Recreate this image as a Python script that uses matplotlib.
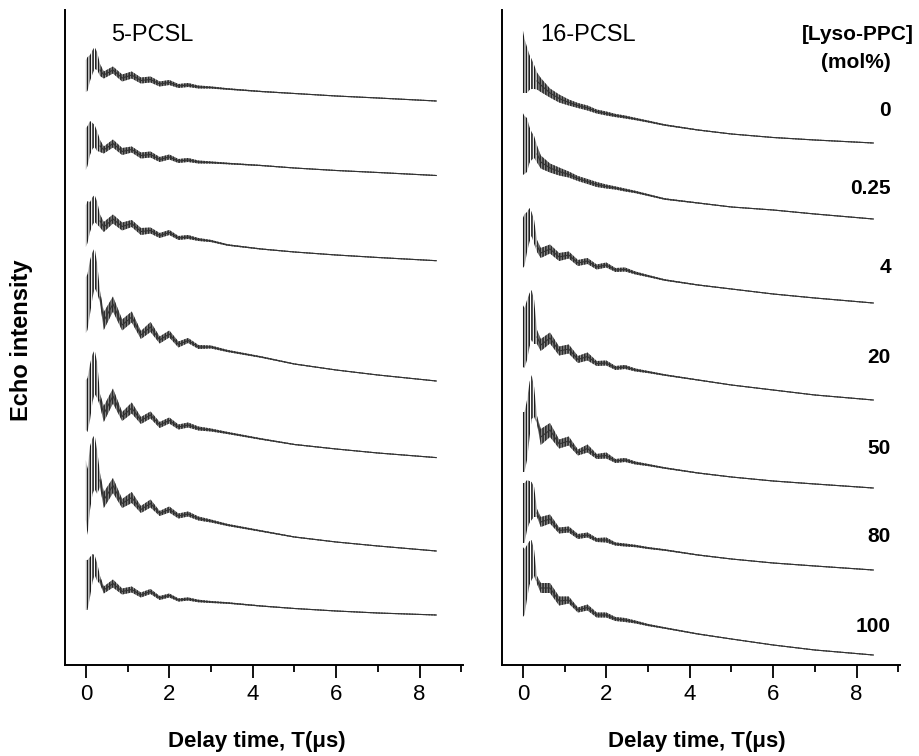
import numpy as np
import matplotlib
matplotlib.use("Agg")
import matplotlib.pyplot as plt

plt.rcParams['font.family'] = ['Liberation Sans', 'DejaVu Sans']
plt.rcParams['hatch.linewidth'] = 1.15
plt.rcParams['hatch.color'] = '#1c1c1c'

# ---- data -------------------------------------------------------------
# delay time grid (us)
T = [0, 0.04, 0.1, 0.16, 0.21, 0.27, 0.34, 0.43, 0.65, 0.87, 1.1, 1.32, 1.55,
     1.77, 2.0, 2.22, 2.45, 2.7, 3.0, 3.4, 4.2, 5.0, 6.0, 7.0, 8.4]

concentrations = ['0', '0.25', '4', '20', '50', '80', '100']
panel_titles = ['5-PCSL', '16-PCSL']
x_ticks = [0, 2, 4, 6, 8]

# 5-PCSL echo (centre of the modulated trace, stacked, arbitrary units)
pcsl5_0 = [589, 591, 597, 603, 607, 604, 595, 590, 595, 587, 590, 584.5, 585.5, 581, 582.5, 579, 580, 578, 577.5, 576, 573.5, 571.5, 569, 567, 564]
pcsl5_025 = [516, 519, 527, 529, 529, 524, 519, 515, 521.5, 513.5, 515.5, 509.5, 510.5, 505.5, 508, 504, 505, 503, 502.5, 501.5, 499.5, 497, 494.5, 492.5, 489.5]
pcsl5_4 = [439, 443, 448, 454, 456.5, 452, 444, 438, 446, 438.5, 441.5, 433.5, 434.5, 429.5, 432.5, 427, 428, 425.5, 424, 420, 416, 413, 410, 407.5, 404.3]
pcsl5_20 = [360, 363, 378, 390, 397, 387, 368, 344, 361, 340, 348, 330, 338, 325, 331, 320.5, 324.5, 318, 318, 314, 308, 301, 295, 290, 284]
pcsl5_50 = [260, 260, 273, 287, 293, 285, 265, 251, 269, 248.5, 257, 244.5, 250, 240, 244.5, 238, 240, 236.5, 235, 232, 226, 220.5, 216, 212, 207.4]
pcsl5_80 = [175, 163, 187, 199, 203, 193, 185, 165, 179.5, 161.5, 167.5, 155.5, 161.5, 151.5, 155.5, 149, 151, 146.5, 144, 140, 134, 128, 123, 119, 114]
pcsl5_100 = [80, 80, 88, 97, 100, 93, 85, 75, 81.5, 73.5, 75.5, 70, 73.5, 67, 69.5, 65, 66, 64, 63, 62, 59, 56.5, 54, 52, 50]

# 5-PCSL modulation half-amplitude
amp5_0 = [16, 17, 13, 12, 11, 9, 6, 3.5, 3.5, 3.5, 3.5, 3, 3, 2.5, 2.5, 2, 2, 1.5, 1.1, 0.8, 0.6, 0.5, 0.5, 0.5, 0.5]
amp5_025 = [21, 20, 17, 13, 11, 10, 6, 3.5, 4, 3.5, 3, 3, 3, 2.5, 2.5, 2, 2, 1.5, 1.1, 0.8, 0.6, 0.5, 0.5, 0.5, 0.5]
amp5_4 = [21, 21, 15, 14, 13.5, 11.5, 6.5, 5, 4.5, 4, 3.5, 3.5, 3, 2.5, 2.5, 2, 2, 1.5, 1.1, 0.8, 0.6, 0.5, 0.5, 0.5, 0.5]
amp5_20 = [28, 28, 27, 23, 20, 15, 6, 9, 7.5, 5.5, 5.5, 4, 5, 3.5, 3.5, 3, 2.5, 2, 1.5, 1.1, 0.8, 0.6, 0.5, 0.5, 0.5]
amp5_50 = [25, 27, 28, 24, 22, 18, 6, 8, 7.5, 4.5, 5.5, 3.5, 3.5, 3, 3, 2.5, 2.5, 2, 1.5, 1.1, 0.8, 0.6, 0.5, 0.5, 0.5]
amp5_80 = [30, 33, 32, 28, 27, 22, 7, 8, 7.5, 4.5, 5.5, 3.5, 4, 2.5, 3, 2.5, 2.5, 2, 1.5, 1.1, 0.8, 0.6, 0.5, 0.5, 0.5]
amp5_100 = [25, 25, 20, 14, 10, 9, 4, 3.5, 4, 3, 3, 2.5, 2.5, 2, 2, 1.6, 1.6, 1.3, 1.0, 0.8, 0.6, 0.5, 0.5, 0.5, 0.5]

# 16-PCSL echo (stacked, arbitrary units)
pcsl16_0 = [603.5, 599, 595, 592.5, 591, 588, 584, 580, 572, 566.5, 562.5, 559.5, 557, 553.5, 551.5, 549.5, 548, 546, 543.5, 540, 535, 531, 527.5, 525, 522]
pcsl16_025 = [521, 520, 520, 520, 519, 518, 511, 503, 497, 493.5, 490.5, 486.5, 483.5, 480.5, 478.5, 477, 475, 473, 470, 466, 462, 458, 455, 451, 446]
pcsl16_4 = [422, 425, 433, 440, 441, 433, 419, 412, 416, 408, 410, 402, 404, 398, 400, 395, 395.5, 392, 389, 385, 380, 376, 371, 367, 362]
pcsl16_20 = [329, 327, 335, 345, 350, 343, 328, 320, 327, 314, 316, 305.5, 308.5, 301.5, 302, 297, 298, 295, 293, 290, 285, 280, 275, 270, 265]
pcsl16_50 = [223, 223, 235, 255, 268, 263, 245, 228, 235, 221, 224, 212.5, 216.5, 208.5, 209.5, 204, 205, 202, 200, 197, 192, 188, 184, 181, 177]
pcsl16_80 = [152, 152, 160, 163, 164, 163, 152, 143, 146, 134.5, 135.5, 128.5, 130, 125, 125, 121, 120, 119, 117, 115, 110, 106, 102, 99, 95]
pcsl16_100 = [83, 83, 93, 102, 105, 102, 85, 77, 77, 64, 65, 55, 57.5, 50, 50, 46, 45, 43, 40, 37, 31, 26, 20, 15, 10]

amp16_0 = [31.5, 27, 23, 17.5, 15, 12, 8.5, 7, 4.5, 4, 3, 2.5, 2.5, 2, 2, 1.6, 1.5, 1.2, 1.0, 0.8, 0.6, 0.5, 0.5, 0.5, 0.5]
amp16_025 = [31, 29, 27, 18, 14, 11, 8.5, 6.5, 4.5, 4, 3, 2.5, 2.5, 2.5, 2, 1.6, 1.5, 1.2, 1.0, 0.8, 0.6, 0.5, 0.5, 0.5, 0.5]
amp16_4 = [25, 26, 20, 17, 12, 12, 6, 5, 4.5, 4, 3.5, 3, 3, 2.5, 2.5, 2, 2, 1.5, 1.1, 0.8, 0.6, 0.5, 0.5, 0.5, 0.5]
amp16_20 = [31, 30, 30, 27, 25, 22, 7, 6, 5.5, 4.5, 4.5, 3.5, 4, 2.5, 2.5, 2, 2, 1.5, 1.1, 0.8, 0.6, 0.5, 0.5, 0.5, 0.5]
amp16_50 = [30, 30, 30, 28, 22, 15, 4, 8, 7, 4.5, 4.5, 3, 4, 2.5, 3, 2, 2, 1.5, 1.1, 0.8, 0.6, 0.5, 0.5, 0.5, 0.5]
amp16_80 = [30, 30, 25, 21, 19, 15, 4, 5, 4.5, 3, 3, 2.5, 2.5, 2, 2.5, 1.6, 1.5, 1.2, 1.0, 0.8, 0.6, 0.5, 0.5, 0.5, 0.5]
amp16_100 = [35, 33, 27, 22, 20, 13, 4, 5, 5, 4.5, 3.5, 2.5, 3, 2.5, 2.5, 2, 2, 1.5, 1.1, 0.8, 0.6, 0.5, 0.5, 0.5, 0.5]

pcsl5 = [pcsl5_0, pcsl5_025, pcsl5_4, pcsl5_20, pcsl5_50, pcsl5_80, pcsl5_100]
amp5 = [amp5_0, amp5_025, amp5_4, amp5_20, amp5_50, amp5_80, amp5_100]
pcsl16 = [pcsl16_0, pcsl16_025, pcsl16_4, pcsl16_20, pcsl16_50, pcsl16_80, pcsl16_100]
amp16 = [amp16_0, amp16_025, amp16_4, amp16_20, amp16_50, amp16_80, amp16_100]

# ---- figure -----------------------------------------------------------
W, H = 919, 756
fig = plt.figure(figsize=(W / 100, H / 100), dpi=100)
axL = fig.add_axes([65 / W, 1 - 665 / H, 398 / W, 655 / H])
axR = fig.add_axes([502 / W, 1 - 665 / H, 398 / W, 655 / H])

t = np.array(T)
early = t <= 0.34
late = t >= 0.34
for ax, sets, amps, title in [(axL, pcsl5, amp5, panel_titles[0]),
                              (axR, pcsl16, amp16, panel_titles[1])]:
    for mid, amp in zip(sets, amps):
        m = np.array(mid, dtype=float)
        a = np.array(amp, dtype=float)
        # first, strongly modulated part: separate strokes
        ax.fill_between(t, m - a, m + a, where=early, facecolor='none',
                        edgecolor='#1c1c1c', hatch='||||||', linewidth=0)
        # later part: dense, narrow modulated band
        ax.fill_between(t, m - a, m + a, where=late, facecolor='#8e8e8e',
                        edgecolor='#2a2a2a', hatch='||||||', linewidth=0)
        ax.plot(t[late], m[late], color='#333333', lw=0.8,
                solid_joinstyle='round')
    ax.set_xlim(-0.5, 9.04)
    ax.set_ylim(0, 655)
    ax.spines['top'].set_visible(False)
    ax.spines['right'].set_visible(False)
    ax.spines['left'].set_linewidth(1.4)
    ax.spines['bottom'].set_linewidth(1.4)
    ax.set_yticks([])
    ax.set_xticks(x_ticks)
    ax.set_xticks([1, 3, 5, 7, 9], minor=True)
    ax.tick_params(axis='x', which='major', direction='out', length=9, width=1.3,
                   labelsize=16, pad=5)
    ax.tick_params(axis='x', which='minor', direction='out', length=5, width=1.3)
    ax.text(0.115 if ax is axL else 0.095, 0.962, title, transform=ax.transAxes,
            fontsize=17, ha='left', va='center')

fig.text(257 / W, 1 - 742 / H, 'Delay time, T(\u03bcs)', fontsize=16,
         fontweight='bold', ha='center', va='center')
fig.text(697 / W, 1 - 742 / H, 'Delay time, T(\u03bcs)', fontsize=16,
         fontweight='bold', ha='center', va='center')
fig.text(22 / W, 1 - 340 / H, 'Echo intensity', fontsize=17, fontweight='bold',
         rotation=90, ha='center', va='center')

fig.text(914 / W, 1 - 35 / H, '[Lyso-PPC]', fontsize=15, fontweight='bold',
         ha='right', va='center')
fig.text(891 / W, 1 - 62 / H, '(mol%)', fontsize=15, fontweight='bold',
         ha='right', va='center')
label_y = [110, 188, 268, 358, 448, 537, 627]
for lab, yy in zip(concentrations, label_y):
    fig.text(891 / W, 1 - yy / H, lab, fontsize=15, fontweight='bold',
             ha='right', va='center')

fig.savefig('out.png', dpi=100)
